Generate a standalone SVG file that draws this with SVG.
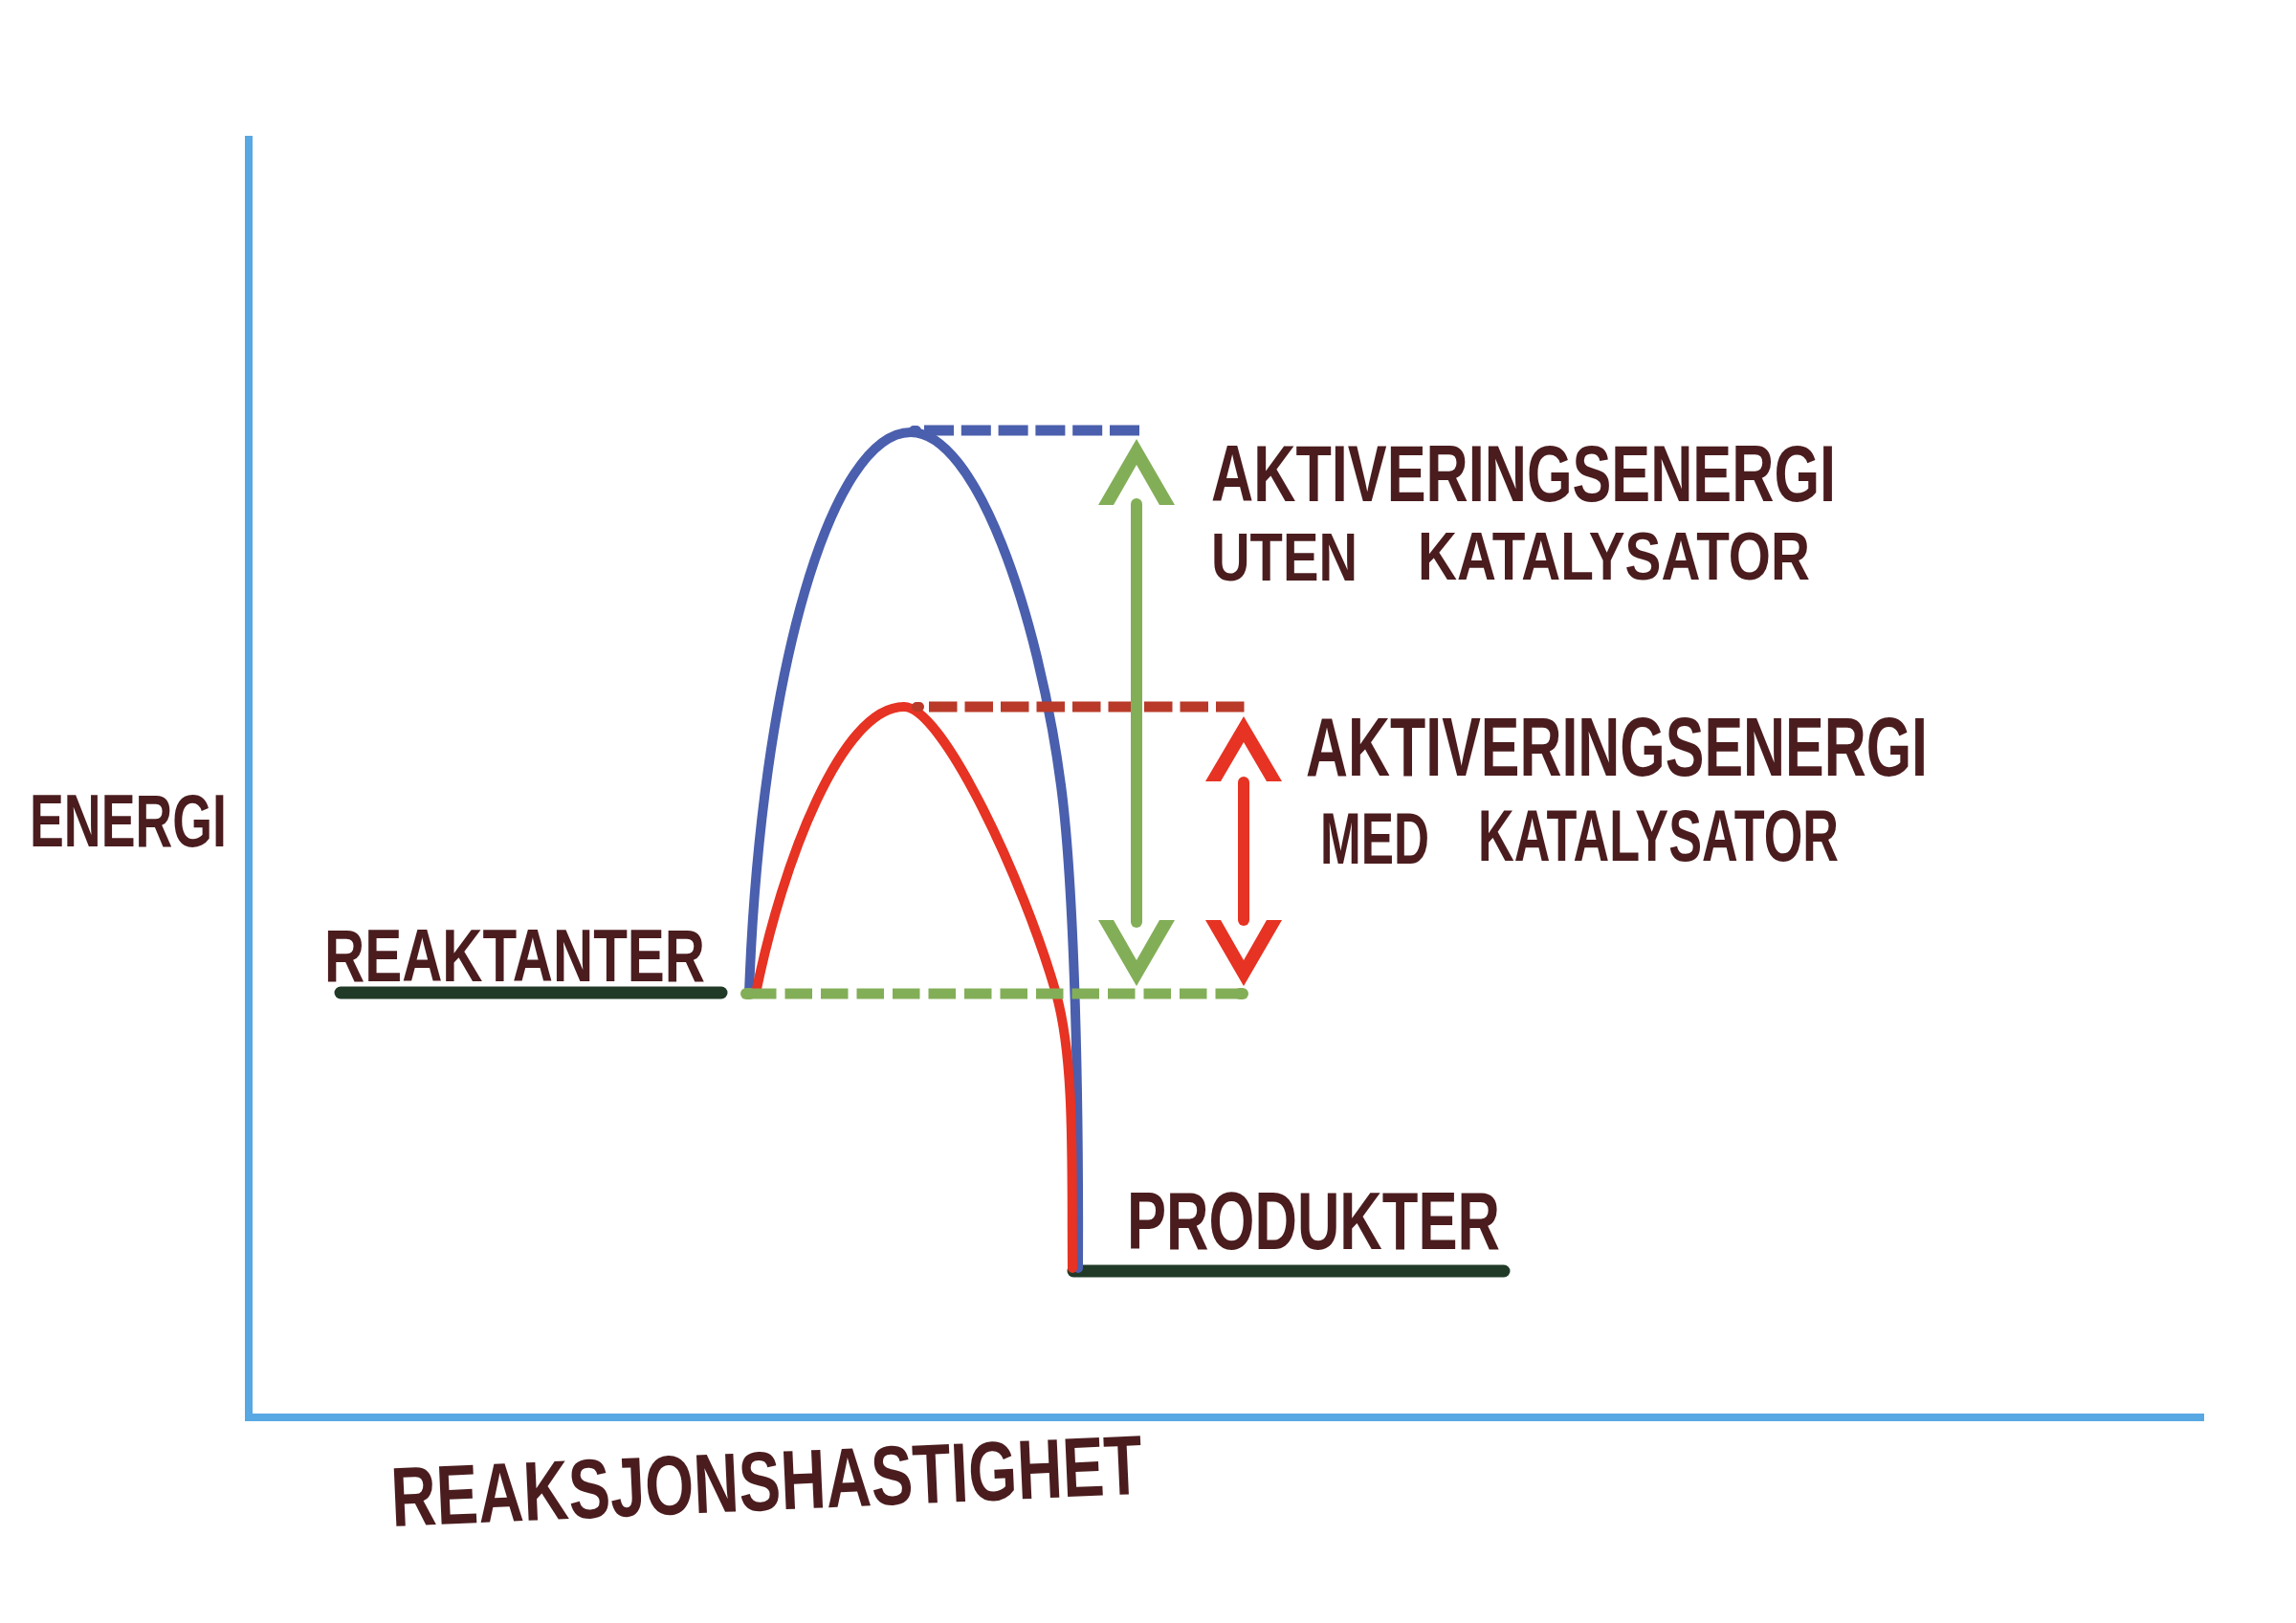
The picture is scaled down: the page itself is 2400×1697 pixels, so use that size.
<svg xmlns="http://www.w3.org/2000/svg" width="2400" height="1697" viewBox="0 0 2400 1697">
<style>
.lbl{font-family:"Liberation Sans",Arial,sans-serif;font-weight:bold;fill:#4a1c1e;}
.curve{fill:none;stroke-width:10;stroke-linecap:round;stroke-linejoin:round;}
.dash{fill:none;stroke-width:11;stroke-linecap:butt;}
.level{fill:none;stroke:#203a27;stroke-width:13;stroke-linecap:round;}
.shaft{fill:none;stroke-width:12;stroke-linecap:round;}
</style>
<rect width="2400" height="1697" fill="#ffffff"/>
<g id="axes">
<path d="M260 142 L260 1482 L2304 1482" fill="none" stroke="#58a8e3" stroke-width="8"/>
</g>
<g id="axis-labels">
<text class="lbl" x="31" y="885" font-size="78" textLength="206" lengthAdjust="spacingAndGlyphs">ENERGI</text>
<text class="lbl" x="410" y="1596" font-size="88" textLength="786" lengthAdjust="spacingAndGlyphs" transform="rotate(-2.5 410 1596)">REAKSJONSHASTIGHET</text>
</g>
<g id="reaktanter">
<line class="level" x1="356" y1="1038" x2="754" y2="1038"/>
<text class="lbl" x="339" y="1026" font-size="78" textLength="398" lengthAdjust="spacingAndGlyphs">REAKTANTER</text>
</g>
<g id="produkter">
<line class="level" x1="1122" y1="1329" x2="1572" y2="1329"/>
<text class="lbl" x="1178" y="1306" font-size="86" textLength="390" lengthAdjust="spacingAndGlyphs">PRODUKTER</text>
</g>
<g id="curve-uten">
<path class="curve" stroke="#4a5fad" d="M783 1039 C795 700 870 452 952 452 C1020 452 1085 640 1109 821 C1121 911 1128 1100 1127 1326"/>
</g>
<g id="curve-med">
<path class="curve" stroke="#e63323" d="M790 1039 C818 900 880 739 945 739 C985 739 1070 920 1104 1039 C1124 1110 1120 1220 1121 1326"/>
</g>
<g id="label-uten">
<text class="lbl" x="1266" y="524" font-size="84" textLength="653" lengthAdjust="spacingAndGlyphs">AKTIVERINGSENERGI</text>
<text class="lbl" x="1266" y="607" font-size="70" textLength="153" lengthAdjust="spacingAndGlyphs">UTEN</text>
<text class="lbl" x="1482" y="606" font-size="70" textLength="410" lengthAdjust="spacingAndGlyphs">KATALYSATOR</text>
</g>
<g id="label-med">
<text class="lbl" x="1365" y="811" font-size="88" textLength="650" lengthAdjust="spacingAndGlyphs">AKTIVERINGSENERGI</text>
<text class="lbl" x="1380" y="903" font-size="76" textLength="114" lengthAdjust="spacingAndGlyphs">MED</text>
<text class="lbl" x="1545" y="900" font-size="76" textLength="377" lengthAdjust="spacingAndGlyphs">KATALYSATOR</text>
</g>
<g id="connectors">
<line class="dash" stroke="#4a5fad" x1="966" y1="450" x2="1192" y2="450" stroke-dasharray="31 7.8"/>
<line stroke="#4a5fad" stroke-width="10" stroke-linecap="round" x1="955" y1="450" x2="958" y2="450"/>
<line class="dash" stroke="#b93a29" x1="971" y1="739" x2="1304" y2="739" stroke-dasharray="29.5 8"/>
<line stroke="#b93a29" stroke-width="10" stroke-linecap="round" x1="958" y1="739" x2="961" y2="739"/>
<line class="dash" stroke="#83ae58" x1="783" y1="1039" x2="1300" y2="1039" stroke-dasharray="28.5 9"/>
<line stroke="#83ae58" stroke-width="12" stroke-linecap="round" x1="780" y1="1039" x2="784" y2="1039"/>
<line stroke="#83ae58" stroke-width="12" stroke-linecap="round" x1="1296" y1="1039" x2="1299" y2="1039"/>
<g id="arrow-uten">
<polygon fill="#83ae58" points="1188,459 1228,528 1212,528 1188,486 1164,528 1148,528"/>
<line class="shaft" stroke="#83ae58" x1="1188" y1="527" x2="1188" y2="964"/>
<polygon fill="#83ae58" points="1188,1031 1228,962 1212,962 1188,1004 1164,962 1148,962"/>
</g>
<g id="arrow-med">
<polygon fill="#e63323" points="1300,749 1340,817 1324,817 1300,776 1276,817 1260,817"/>
<line class="shaft" stroke="#e63323" x1="1300" y1="818" x2="1300" y2="962"/>
<polygon fill="#e63323" points="1300,1031 1340,962 1324,962 1300,1004 1276,962 1260,962"/>
</g>
</g>
</svg>
